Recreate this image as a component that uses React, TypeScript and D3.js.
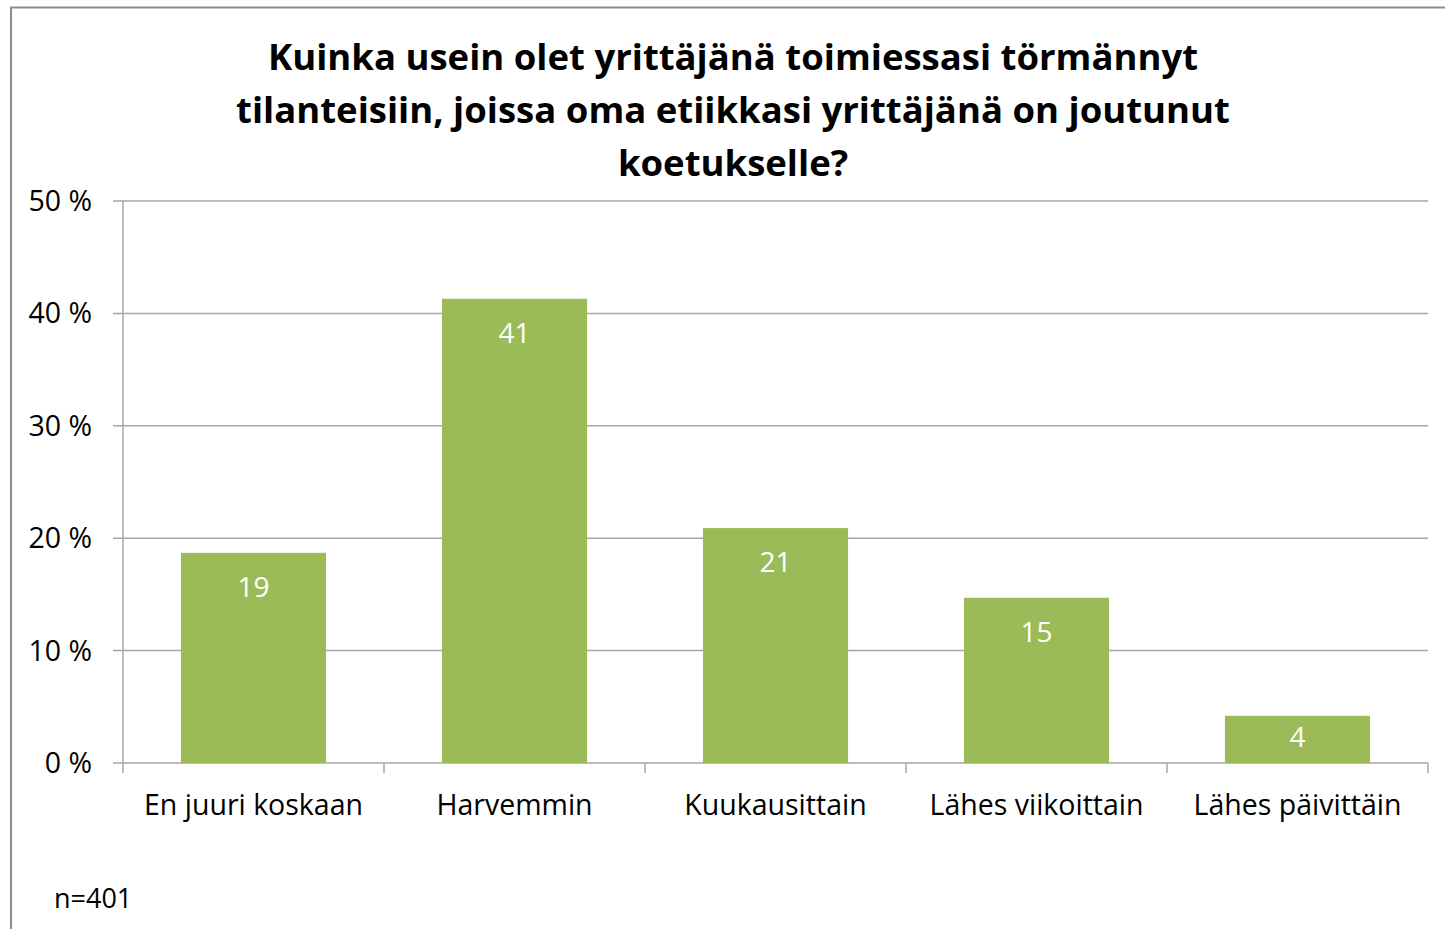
import React, { useEffect, useRef } from "react"
import * as d3 from "d3"

const titleLines = [
  "Kuinka usein olet yrittäjänä toimiessasi törmännyt",
  "tilanteisiin, joissa oma etiikkasi yrittäjänä on joutunut",
  "koetukselle?",
]
const categories = [
  "En juuri koskaan",
  "Harvemmin",
  "Kuukausittain",
  "Lähes viikoittain",
  "Lähes päivittäin",
]
const values = [18.7, 41.3, 20.9, 14.7, 4.2]
const valueLabels = ["19", "41", "21", "15", "4"]
const yTicks = [0, 10, 20, 30, 40, 50]
const note = "n=401"

const FONT = "'Open Sans', Lato, sans-serif"

const App = () => {
  const ref = useRef<SVGSVGElement>(null)

  useEffect(() => {
    const svgWidth = 1445
    const svgHeight = 929
    const margin = { top: 201, right: 17, bottom: 166, left: 123 }
    const width = svgWidth - margin.left - margin.right
    const height = svgHeight - margin.top - margin.bottom

    const svg = d3.select(ref.current)
    svg.selectAll("*").remove()

    // outer frame
    svg
      .append("rect")
      .attr("x", 11)
      .attr("y", 7.5)
      .attr("width", svgWidth - 8)
      .attr("height", svgHeight - 4)
      .attr("fill", "#fff")
      .attr("stroke", "#8c8c8c")
      .attr("stroke-width", 2)

    svg
      .append("g")
      .selectAll("text")
      .data(titleLines)
      .join("text")
      .attr("x", 733)
      .attr("y", (d, i) => 70 + i * 53)
      .attr("text-anchor", "middle")
      .style("font-family", FONT)
      .style("font-weight", "bold")
      .style("font-size", "36.5px")
      .style("fill", "#000")
      .text((d) => d)

    const x = d3.scaleBand().domain(categories).range([0, width]).padding(0)
    const y = d3.scaleLinear().domain([0, 50]).range([height, 0])

    const g = svg
      .append("g")
      .attr("transform", `translate(${margin.left}, ${margin.top})`)

    // gridlines
    g.append("g")
      .selectAll("line")
      .data(yTicks)
      .join("line")
      .attr("x1", -10)
      .attr("x2", width)
      .attr("y1", (d) => y(d))
      .attr("y2", (d) => y(d))
      .attr("stroke", "#a6a6a6")
      .attr("stroke-width", 1.5)

    // y axis line
    g.append("line")
      .attr("x1", 0)
      .attr("x2", 0)
      .attr("y1", 0)
      .attr("y2", height)
      .attr("stroke", "#a6a6a6")
      .attr("stroke-width", 1.5)

    // x category ticks
    const bounds = categories.map((c) => x(c) as number).concat([width])
    g.append("g")
      .selectAll("line")
      .data(bounds)
      .join("line")
      .attr("x1", (d) => d)
      .attr("x2", (d) => d)
      .attr("y1", height)
      .attr("y2", height + 10)
      .attr("stroke", "#a6a6a6")
      .attr("stroke-width", 1.5)

    g.append("g")
      .selectAll("text")
      .data(yTicks)
      .join("text")
      .attr("x", -31)
      .attr("y", (d) => y(d) + 10)
      .attr("text-anchor", "end")
      .style("font-family", FONT)
      .style("font-size", "28.5px")
      .style("fill", "#000")
      .text((d) => `${d} %`)

    const barW = x.bandwidth() * 0.556
    const bars = g
      .append("g")
      .selectAll("g")
      .data(categories)
      .join("g")

    bars
      .append("rect")
      .attr("x", (d) => (x(d) as number) + (x.bandwidth() - barW) / 2)
      .attr("y", (d, i) => y(values[i]))
      .attr("width", barW)
      .attr("height", (d, i) => height - y(values[i]))
      .attr("fill", "#9bbb59")

    // label near the bar top, centred when the bar is short
    bars
      .append("text")
      .attr("x", (d) => (x(d) as number) + x.bandwidth() / 2)
      .attr("y", (d, i) =>
        Math.min(y(values[i]) + 44, (y(values[i]) + height) / 2 + 8)
      )
      .attr("text-anchor", "middle")
      .style("font-family", FONT)
      .style("font-size", "28px")
      .style("fill", "#fff")
      .text((d, i) => valueLabels[i])

    bars
      .append("text")
      .attr("x", (d) => (x(d) as number) + x.bandwidth() / 2)
      .attr("y", height + 52)
      .attr("text-anchor", "middle")
      .style("font-family", FONT)
      .style("font-size", "28.5px")
      .style("fill", "#000")
      .text((d) => d)

    svg
      .append("text")
      .attr("x", 54)
      .attr("y", 908)
      .style("font-family", FONT)
      .style("font-size", "27px")
      .style("fill", "#000")
      .text(note)
  }, [])

  return (
    <svg
      ref={ref}
      width={1445}
      height={929}
      style={{ position: "absolute", left: 0, top: 0 }}
    />
  )
}

export default App
